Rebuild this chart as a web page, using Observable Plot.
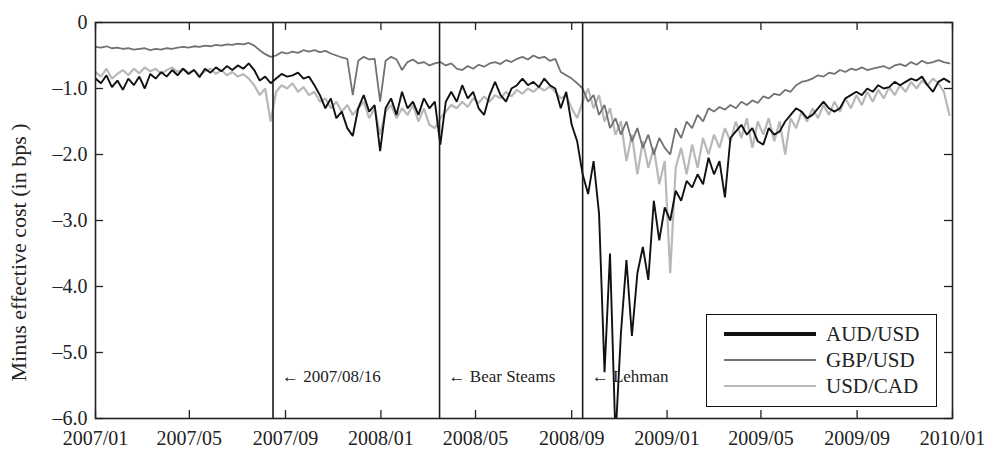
<!DOCTYPE html>
<html><head><meta charset="utf-8">
<script src="https://cdn.jsdelivr.net/npm/d3@7"></script>
<script src="https://cdn.jsdelivr.net/npm/@observablehq/plot@0.6"></script>
<style>
body{margin:0;background:#fff;}
#wrap{position:relative;width:1000px;height:462px;font-family:"Liberation Serif","DejaVu Serif",serif;color:#222;}
#legend{position:absolute;left:706px;top:314px;width:229px;height:91px;border:1.5px solid #111;background:#fff;}
.row{position:absolute;left:0;width:229px;height:26px;}
.ln{position:absolute;left:17px;width:92px;top:50%;}
.lb{position:absolute;left:119px;top:0;line-height:26px;font-size:21px;}
</style></head>
<body><div id="wrap"></div>
<script>
const seriesNames = ["AUD/USD", "GBP/USD", "USD/CAD"];
const seriesColors = ["#111111", "#727272", "#b8b8b8"];
const seriesWidths = [1.9, 1.8, 2.2];
const legendWidths = [3.2, 2.4, 2.2];

// weekly readings starting 2007-01-01
const AUD = [-0.85,-0.92,-0.8,-0.98,-0.88,-1.02,-0.85,-0.95,-0.82,-1.0,
-0.78,-0.85,-0.75,-0.82,-0.72,-0.8,-0.7,-0.78,-0.72,-0.83,
-0.7,-0.76,-0.68,-0.74,-0.66,-0.72,-0.65,-0.7,-0.62,-0.72,
-0.88,-0.82,-0.92,-0.85,-0.78,-0.82,-0.8,-0.76,-0.85,-0.82,
-0.95,-1.1,-1.3,-1.15,-1.45,-1.35,-1.6,-1.72,-1.3,-1.1,
-1.35,-1.25,-1.95,-1.3,-1.15,-1.4,-1.05,-1.3,-1.2,-1.4,
-1.15,-1.3,-1.2,-1.85,-1.2,-1.05,-1.2,-0.95,-1.15,-1.05,
-1.3,-1.4,-1.1,-0.9,-1.1,-1.2,-1.0,-0.95,-0.85,-0.95,
-0.9,-0.98,-0.85,-0.95,-1.0,-1.3,-1.05,-1.55,-1.8,-2.3,
-2.6,-2.1,-2.9,-5.3,-3.5,-6.3,-4.7,-3.6,-4.75,-3.8,
-3.4,-3.9,-2.7,-3.3,-2.8,-3.0,-2.55,-2.7,-2.4,-2.5,
-2.3,-2.45,-2.05,-2.3,-2.1,-2.65,-1.75,-1.65,-1.55,-1.7,
-1.6,-1.8,-1.85,-1.6,-1.7,-1.65,-1.5,-1.4,-1.3,-1.35,
-1.45,-1.4,-1.3,-1.2,-1.3,-1.35,-1.3,-1.15,-1.1,-1.05,
-1.1,-1.0,-1.05,-0.95,-1.0,-0.98,-0.9,-0.95,-0.9,-0.85,
-0.88,-0.82,-0.95,-1.05,-0.9,-0.85,-0.9];

const GBP = [-0.37,-0.38,-0.36,-0.39,-0.38,-0.4,-0.39,-0.41,-0.4,-0.39,
-0.42,-0.4,-0.41,-0.39,-0.4,-0.38,-0.37,-0.38,-0.36,-0.37,
-0.35,-0.36,-0.34,-0.35,-0.33,-0.34,-0.32,-0.33,-0.31,-0.35,
-0.42,-0.48,-0.52,-0.5,-0.45,-0.47,-0.44,-0.46,-0.42,-0.44,
-0.42,-0.45,-0.43,-0.47,-0.5,-0.53,-0.55,-1.1,-0.58,-0.52,
-0.56,-0.55,-1.2,-0.58,-0.52,-0.56,-0.72,-0.6,-0.56,-0.62,
-0.6,-0.65,-0.62,-0.6,-0.65,-0.62,-0.7,-0.72,-0.66,-0.7,
-0.64,-0.67,-0.62,-0.6,-0.63,-0.57,-0.6,-0.55,-0.52,-0.56,
-0.5,-0.54,-0.52,-0.58,-0.55,-0.75,-0.8,-0.85,-0.92,-1.0,
-1.2,-1.1,-1.4,-1.25,-1.6,-1.45,-1.7,-1.5,-1.8,-1.6,
-1.9,-1.7,-2.0,-1.75,-1.9,-2.0,-1.6,-1.75,-1.5,-1.6,
-1.4,-1.5,-1.3,-1.35,-1.28,-1.32,-1.25,-1.3,-1.2,-1.25,
-1.18,-1.22,-1.12,-1.15,-1.08,-1.1,-1.02,-1.05,-0.95,-0.9,
-0.88,-0.85,-0.8,-0.82,-0.76,-0.78,-0.72,-0.75,-0.7,-0.72,
-0.68,-0.72,-0.7,-0.68,-0.66,-0.7,-0.65,-0.63,-0.66,-0.6,
-0.64,-0.58,-0.62,-0.6,-0.57,-0.6,-0.62];

const CAD = [-0.75,-0.82,-0.7,-0.85,-0.78,-0.72,-0.8,-0.7,-0.77,-0.68,
-0.74,-0.7,-0.78,-0.72,-0.68,-0.75,-0.7,-0.76,-0.72,-0.8,
-0.74,-0.7,-0.78,-0.72,-0.8,-0.75,-0.82,-0.78,-0.85,-0.95,
-1.1,-1.0,-1.5,-1.05,-0.95,-1.0,-0.92,-1.05,-0.98,-1.1,
-1.05,-1.2,-1.15,-1.3,-1.2,-1.35,-1.25,-1.4,-1.3,-1.2,
-1.45,-1.3,-1.7,-1.35,-1.25,-1.45,-1.3,-1.4,-1.25,-1.5,
-1.3,-1.55,-1.6,-1.45,-1.35,-1.25,-1.3,-1.2,-1.28,-1.15,
-1.22,-1.12,-1.2,-1.1,-1.15,-1.05,-1.12,-1.02,-1.08,-1.0,
-1.05,-0.98,-1.03,-0.97,-1.05,-1.15,-1.1,-1.3,-1.45,-1.2,
-1.0,-1.3,-1.1,-1.5,-1.3,-1.7,-1.5,-2.1,-1.7,-2.3,
-1.8,-2.2,-1.9,-2.45,-2.1,-3.8,-2.2,-1.9,-2.3,-1.85,
-2.2,-1.75,-2.0,-1.7,-1.9,-1.6,-1.8,-1.5,-1.75,-1.45,
-1.9,-1.5,-1.7,-1.45,-1.8,-1.5,-2.0,-1.45,-1.6,-1.35,
-1.5,-1.3,-1.45,-1.25,-1.4,-1.2,-1.35,-1.15,-1.3,-1.1,
-1.25,-1.05,-1.2,-1.02,-1.15,-0.98,-1.1,-0.95,-1.05,-0.9,
-1.0,-0.88,-0.95,-0.85,-0.92,-1.05,-1.4];

const eventDates = ["2007-08-16", "2008-03-16", "2008-09-15"];
const eventLabels = ["← 2007/08/16", "← Bear Steams", "← Lehman"];
const xTickDates = ["2007-01-01","2007-05-01","2007-09-01","2008-01-01","2008-05-01","2008-09-01","2009-01-01","2009-05-01","2009-09-01","2010-01-01"];
const yTickValues = [0, -1, -2, -3, -4, -5, -6];
const yLabel = "Minus effective cost (in bps )";

const start = new Date(Date.UTC(2007, 0, 1));
const seriesValues = [AUD, GBP, CAD];
const rows = [];
seriesValues.forEach((vals, s) => vals.forEach((v, i) => rows.push({series: seriesNames[s], date: d3.utcDay.offset(start, 7 * i), value: v})));
const xTicks = xTickDates.map(d => new Date(d));
const events = eventDates.map((d, i) => ({date: new Date(d), label: eventLabels[i]}));
const drawOrder = [2, 1, 0];

const plot = Plot.plot({
  width: 1000, height: 462,
  marginLeft: 95, marginRight: 48, marginTop: 22, marginBottom: 44,
  style: {fontFamily: '"Liberation Serif", "DejaVu Serif", serif', fontSize: "20px", color: "#222", background: "#fff", overflow: "visible"},
  x: {type: "utc", domain: [new Date("2007-01-01"), new Date("2010-01-01")], ticks: xTicks, tickFormat: d3.utcFormat("%Y/%m"), tickSize: 0, tickPadding: 12, label: null},
  y: {domain: [-6, 0], ticks: yTickValues, tickFormat: d => d === 0 ? "0" : "–" + Math.abs(d).toFixed(1), tickSize: 0, tickPadding: 8, label: null},
  marks: [
    ...drawOrder.map(s => Plot.line(rows.filter(r => r.series === seriesNames[s]), {x: "date", y: "value", stroke: seriesColors[s], strokeWidth: seriesWidths[s], strokeLinejoin: "miter", clip: true})),
    Plot.ruleX(events, {x: "date", stroke: "#1a1a1a", strokeWidth: 1.6}),
    Plot.text(events, {x: "date", text: "label", frameAnchor: "bottom", dy: -37, dx: 9, textAnchor: "start", fontSize: 17, fill: "#222"}),
    Plot.ruleX(xTicks, {x: d => d, insetTop: 388, stroke: "#222", strokeWidth: 1.3}),
    Plot.ruleX(xTicks, {x: d => d, insetBottom: 388, stroke: "#222", strokeWidth: 1.3}),
    Plot.ruleY(yTickValues, {y: d => d, insetRight: 849, stroke: "#222", strokeWidth: 1.3}),
    Plot.ruleY(yTickValues, {y: d => d, insetLeft: 849, stroke: "#222", strokeWidth: 1.3}),
    Plot.frame({stroke: "#222", strokeWidth: 1.6}),
    Plot.text([yLabel], {text: d => d, frameAnchor: "left", textAnchor: "middle", rotate: -90, dx: -77, dy: 32, fontSize: 22, fill: "#222", letterSpacing: 0.8})
  ]
});
const wrap = document.getElementById("wrap");
wrap.appendChild(plot);

const legend = document.createElement("div");
legend.id = "legend";
seriesNames.forEach((name, i) => {
  const row = document.createElement("div");
  row.className = "row";
  row.style.top = (6 + i * 26) + "px";
  const ln = document.createElement("div");
  ln.className = "ln";
  ln.style.height = legendWidths[i] + "px";
  ln.style.marginTop = (-legendWidths[i] / 2) + "px";
  ln.style.background = seriesColors[i];
  const lb = document.createElement("div");
  lb.className = "lb";
  lb.textContent = name;
  row.appendChild(ln); row.appendChild(lb);
  legend.appendChild(row);
});
wrap.appendChild(legend);
</script></body></html>
